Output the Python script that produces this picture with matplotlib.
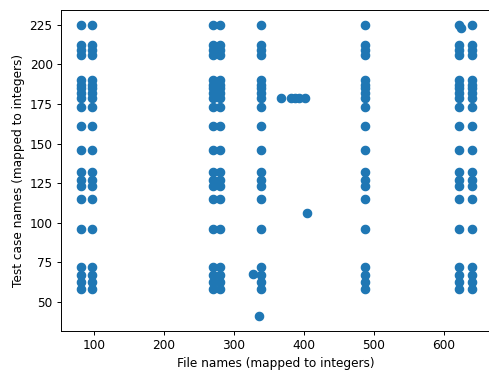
import numpy as np
from matplotlib import pyplot as plt

# test case ids shared by most files
test_rows = [225, 212, 209, 206, 190, 187, 185, 182, 179, 173, 161, 146,
             132, 127, 123, 115, 96, 72, 67, 63, 58]
# file ids that run the full set of test cases
full_files = [81, 97, 270, 280, 339, 487, 621, 640]

# single points that do not follow the grid
extra_x = [367, 381, 387, 393, 401, 405, 327, 336, 625]
extra_y = [179, 179, 179, 179, 179, 106, 68, 41, 223]

xs, ys = [], []
for f in full_files:
    for t in test_rows:
        xs.append(f)
        ys.append(t)
xs += extra_x
ys += extra_y

dpi = 87
fig = plt.figure(figsize=(489 / dpi, 370 / dpi), dpi=dpi)
ax = fig.add_axes([61.1 / 489, 39 / 370, 430.4 / 489, 321 / 370])
ax.scatter(xs, ys, s=48)
ax.set_xlabel('File names (mapped to integers)')
ax.set_ylabel('Test case names (mapped to integers)')
fig.savefig('out.png', dpi=dpi)
